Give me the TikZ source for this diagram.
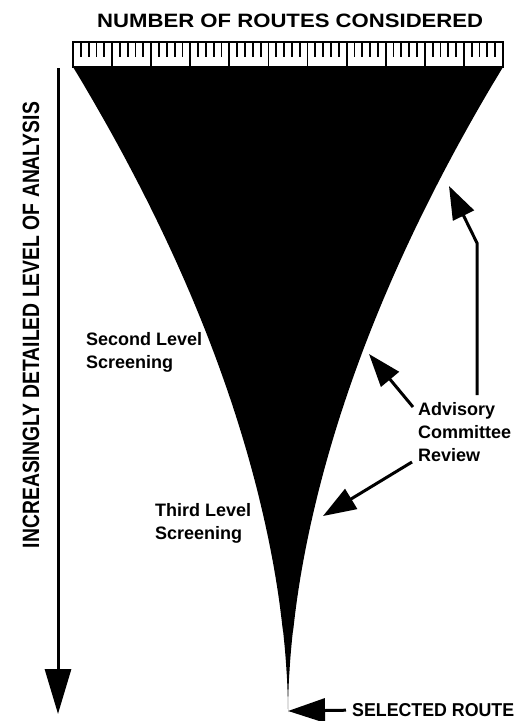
\documentclass[tikz,border=0pt]{standalone}
\usepackage{fontspec}
\setmainfont{Liberation Sans}
\usepackage{graphicx}
\usetikzlibrary{arrows.meta,positioning}
\tikzset{rule/.style={draw=black,line width=1.8pt},tick/.style={draw=black,line width=1.8pt},pointer/.style={-{Triangle[length=33pt,width=23pt]},draw=black,line width=3pt},bigpointer/.style={-{Triangle[length=45pt,width=26pt]},draw=black,line width=3pt},label/.style={inner sep=0pt,align=left,font=\fontsize{18}{23}\selectfont\bfseries}}

\begin{document}
\begin{tikzpicture}[x=1pt,y=-1pt]
 \useasboundingbox (0,0) rectangle (520,721);
 \node[inner sep=0pt,anchor=south west] (title) at (97,28) {\resizebox{386pt}{13.5pt}{\bfseries NUMBER OF ROUTES CONSIDERED}};
 % ruler
 \draw[rule] (73,42) rectangle (503,67);
 \foreach \i in {1,...,54}{\draw[tick] ({73+\i*7.818},42)--++(0,15);}
 \foreach \i in {1,...,10}{\draw[tick] ({73+\i*39.09},42)--++(0,25);}
 % funnel
 \fill[black] plot[domain=0:0.995,samples=120] ({288-215*(1-\x)^1.82},{67+645*\x}) -- (288,712) -- plot[domain=0.995:0,samples=120] ({288+215*(1-\x)^1.82},{67+645*\x}) -- cycle;
 \coordinate (apex) at (288,711);
 % left axis
 \coordinate (top) at (58,68); \coordinate (bottom) at (58,714);
 \draw[bigpointer] (top)--(bottom);
 \node[inner sep=0pt,rotate=90] (depth) at (31,325) {\resizebox{446pt}{16.5pt}{\bfseries INCREASINGLY DETAILED LEVEL OF ANALYSIS}};
 % labels
 \node[label,anchor=north west] (second) at (86,332) {Second Level\\Screening};
 \node[label,anchor=north west] (third) at (155,503) {Third Level\\Screening};
 \node[label,anchor=north west] (acr) at (418,402) {Advisory\\Committee\\Review};
 \node[inner sep=0pt,anchor=south west] (sel) at (352,717) {\resizebox{162pt}{13pt}{\bfseries SELECTED ROUTE}};
 % arrows
 \coordinate (bend) at (477,243); \coordinate (tipa) at (449,186);
 \coordinate (tipb) at (369,354); \coordinate (tipc) at (323,516);
 \draw[pointer] ([xshift=59pt,yshift=7pt]acr.north west)--(bend)--(tipa);
 \draw[pointer] ([xshift=-5pt,yshift=-5pt]acr.north west)--(tipb);
 \draw[pointer] ([xshift=-6pt,yshift=-60pt]acr.north west)--(tipc);
 \draw[pointer,-{Triangle[length=37pt,width=24pt]}] ([xshift=-6pt]sel.west)--(apex);
\end{tikzpicture}
\end{document}
